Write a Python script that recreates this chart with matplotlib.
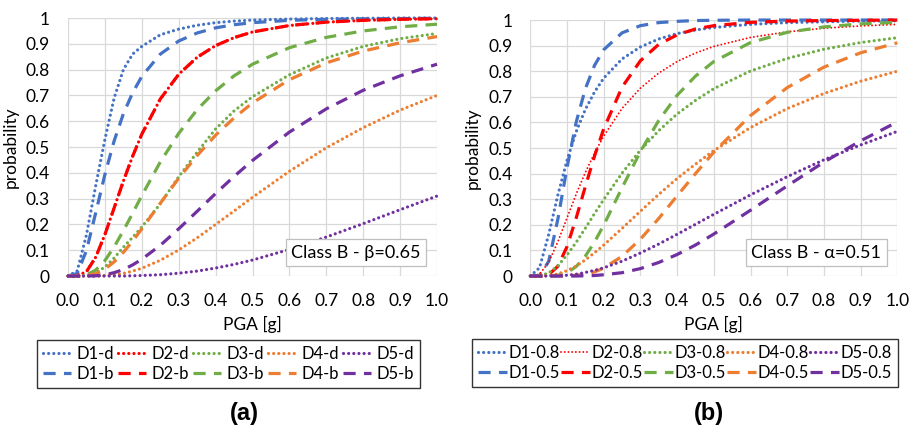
import matplotlib
matplotlib.use('Agg')
import matplotlib.pyplot as plt

# --- Dati ---
PGA = [0, 0.025, 0.05, 0.075, 0.1, 0.125, 0.15, 0.175, 0.2, 0.25,
       0.3, 0.35, 0.4, 0.45, 0.5, 0.6, 0.7, 0.8, 0.9, 1.0]

# (a) Class B - beta=0.65
a_D1_d = [0, 0.02, 0.16, 0.35, 0.53, 0.69, 0.80, 0.86, 0.89, 0.935,
          0.957, 0.972, 0.982, 0.988, 0.992, 0.996, 0.998, 0.999, 1.0, 1.0]
a_D2_d = [0, 0.001, 0.017, 0.073, 0.161, 0.264, 0.368, 0.464, 0.55, 0.686,
          0.782, 0.848, 0.893, 0.924, 0.946, 0.971, 0.984, 0.991, 0.995, 0.997]
a_D3_d = [0, 0, 0.002, 0.012, 0.035, 0.07, 0.112, 0.15, 0.19, 0.28,
          0.385, 0.48, 0.57, 0.64, 0.695, 0.78, 0.845, 0.89, 0.92, 0.94]
a_D4_d = [0, 0, 0, 0, 0.002, 0.005, 0.01, 0.019, 0.03, 0.061,
          0.101, 0.148, 0.20, 0.252, 0.305, 0.406, 0.497, 0.575, 0.643, 0.70]
a_D5_d = [0, 0, 0, 0, 0, 0, 0, 0.001, 0.002, 0.005,
          0.011, 0.019, 0.031, 0.045, 0.062, 0.103, 0.151, 0.203, 0.257, 0.31]

a_D1_b = [0, 0.01, 0.099, 0.245, 0.394, 0.524, 0.629, 0.71, 0.774, 0.86,
          0.911, 0.942, 0.962, 0.974, 0.982, 0.991, 0.995, 0.997, 0.998, 0.999]
a_D2_b = [0, 0.001, 0.017, 0.073, 0.161, 0.264, 0.368, 0.464, 0.55, 0.686,
          0.782, 0.848, 0.893, 0.924, 0.946, 0.971, 0.984, 0.991, 0.995, 0.997]
a_D3_b = [0, 0, 0.004, 0.023, 0.06, 0.113, 0.176, 0.243, 0.312, 0.442,
          0.553, 0.645, 0.718, 0.776, 0.821, 0.885, 0.925, 0.95, 0.966, 0.976]
a_D4_b = [0, 0, 0.002, 0.009, 0.027, 0.055, 0.092, 0.135, 0.183, 0.282,
          0.379, 0.467, 0.546, 0.613, 0.671, 0.761, 0.826, 0.872, 0.904, 0.928]
a_D5_b = [0, 0, 0, 0.001, 0.005, 0.013, 0.025, 0.043, 0.065, 0.119,
          0.183, 0.251, 0.32, 0.386, 0.448, 0.558, 0.648, 0.72, 0.776, 0.821]

# (b) Class B - alpha=0.51
b_D1_08 = [0, 0.032, 0.162, 0.316, 0.452, 0.564, 0.651, 0.719, 0.773, 0.848,
           0.895, 0.926, 0.947, 0.961, 0.971, 0.983, 0.99, 0.993, 0.996, 0.997]
b_D2_08 = [0, 0.007, 0.053, 0.134, 0.227, 0.32, 0.405, 0.48, 0.547, 0.655,
           0.734, 0.793, 0.838, 0.871, 0.897, 0.932, 0.954, 0.968, 0.977, 0.983]
b_D3_08 = [0, 0.001, 0.012, 0.04, 0.082, 0.132, 0.187, 0.244, 0.299, 0.402,
           0.492, 0.568, 0.633, 0.686, 0.732, 0.801, 0.85, 0.886, 0.912, 0.931]
b_D4_08 = [0, 0, 0.002, 0.008, 0.021, 0.039, 0.063, 0.091, 0.121, 0.186,
           0.253, 0.319, 0.381, 0.437, 0.49, 0.58, 0.654, 0.713, 0.761, 0.80]
b_D5_08 = [0, 0, 0, 0.001, 0.003, 0.007, 0.014, 0.022, 0.032, 0.058,
           0.09, 0.125, 0.163, 0.202, 0.241, 0.317, 0.388, 0.454, 0.512, 0.565]

b_D1_05 = [0, 0.002, 0.057, 0.222, 0.424, 0.601, 0.732, 0.823, 0.884, 0.95,
           0.978, 0.99, 0.995, 0.998, 0.999, 1.0, 1.0, 1.0, 1.0, 1.0]
b_D2_05 = [0, 0, 0.005, 0.038, 0.115, 0.227, 0.35, 0.469, 0.575, 0.738,
           0.841, 0.905, 0.942, 0.965, 0.978, 0.991, 0.996, 0.998, 0.999, 1.0]
b_D3_05 = [0, 0, 0, 0.003, 0.013, 0.037, 0.078, 0.133, 0.199, 0.345,
           0.486, 0.608, 0.706, 0.781, 0.838, 0.912, 0.952, 0.973, 0.985, 0.991]
b_D4_05 = [0, 0, 0, 0, 0.001, 0.003, 0.007, 0.016, 0.031, 0.077,
           0.144, 0.225, 0.313, 0.40, 0.484, 0.627, 0.736, 0.816, 0.872, 0.911]
b_D5_05 = [0, 0, 0, 0, 0, 0, 0.001, 0.002, 0.005, 0.013,
           0.029, 0.053, 0.084, 0.121, 0.164, 0.257, 0.352, 0.445, 0.528, 0.602]

LIVELLI = ['D1', 'D2', 'D3', 'D4', 'D5']
COLORI = ['#4472C4', '#FF0000', '#70AD47', '#ED7D31', '#7030A0']
# ---------------------

plt.rcParams['font.family'] = ['Lato', 'DejaVu Sans']
FS = 12.5      # assi
FS_LEG = 12    # legenda

DOT = dict(linestyle=(0, (0.01, 1.6)), linewidth=2.3, dash_capstyle='round')
DOT_FINE = dict(linestyle=(0, (0.01, 1.9)), linewidth=1.4, dash_capstyle='round')
DASH = dict(linestyle=(0, (3.8, 2.6)), linewidth=2.3, dash_capstyle='butt')


def prepara_assi(ax, testo):
    ax.set_xlim(0, 1)
    ax.set_ylim(0, 1)
    ax.set_xticks([i / 10 for i in range(11)])
    ax.set_xticklabels([f'{i / 10:.1f}' for i in range(11)])
    ax.set_yticks([i / 10 for i in range(11)])
    ax.set_yticklabels(['0'] + [f'{i / 10:g}' for i in range(1, 10)] + ['1'])
    ax.tick_params(length=0, labelsize=FS)
    ax.tick_params(axis='y', pad=13)
    ax.tick_params(axis='x', pad=12)
    for s in ax.spines.values():
        s.set_visible(False)
    ax.grid(True, color='#D9D9D9', linewidth=0.9)
    ax.set_axisbelow(True)
    ax.set_xlabel('PGA [g]', fontsize=FS, labelpad=5)
    ax.set_ylabel('probability', fontsize=FS, labelpad=5)
    ax.text(0.956, 0.06, testo, transform=ax.transAxes, ha='right', va='bottom',
            fontsize=13, zorder=10,
            bbox=dict(boxstyle='square,pad=0.3', facecolor='white',
                      edgecolor='#BFBFBF', linewidth=0.9))


fig = plt.figure(figsize=(9.12, 4.29), dpi=100)
ax1 = fig.add_axes([0.0746, 0.3566, 0.4046, 0.6014])
ax2 = fig.add_axes([0.5815, 0.3566, 0.4024, 0.5967])

# Pannello (a)
serie_a_d = [a_D1_d, a_D2_d, a_D3_d, a_D4_d, a_D5_d]
serie_a_b = [a_D1_b, a_D2_b, a_D3_b, a_D4_b, a_D5_b]
handles_a = []
for nome, col, yd, yb in zip(LIVELLI, COLORI, serie_a_d, serie_a_b):
    ld, = ax1.plot(PGA, yd, color=col, clip_on=False, label=nome + '-d', **DOT)
    lb, = ax1.plot(PGA, yb, color=col, clip_on=False, label=nome + '-b', **DASH)
    handles_a += [ld, lb]
prepara_assi(ax1, 'Class B - β=0.65')

# Pannello (b)
serie_b_08 = [b_D1_08, b_D2_08, b_D3_08, b_D4_08, b_D5_08]
serie_b_05 = [b_D1_05, b_D2_05, b_D3_05, b_D4_05, b_D5_05]
handles_b = []
for nome, col, y8, y5 in zip(LIVELLI, COLORI, serie_b_08, serie_b_05):
    stile = DOT_FINE if nome == 'D2' else DOT
    l8, = ax2.plot(PGA, y8, color=col, clip_on=False, label=nome + '-0.8', **stile)
    l5, = ax2.plot(PGA, y5, color=col, clip_on=False, label=nome + '-0.5', **DASH)
    handles_b += [l8, l5]
prepara_assi(ax2, 'Class B - α=0.51')

# Legende (5 colonne, righe: -d / -b)
leg_kw = dict(loc='center', ncol=5, fontsize=FS_LEG, frameon=True, fancybox=False,
              edgecolor='black', handlelength=1.7, labelspacing=0.25,
              borderpad=0.35, borderaxespad=0)
lg1 = fig.legend(handles=handles_a, bbox_to_anchor=(0.2505, 0.1515),
                 handletextpad=0.3, columnspacing=0.25, **leg_kw)
lg2 = fig.legend(handles=handles_b, bbox_to_anchor=(0.7511, 0.1538),
                 handletextpad=0.1, columnspacing=0.1, **leg_kw)
for lg in (lg1, lg2):
    lg.get_frame().set_linewidth(1.0)

fig.text(0.2675, 0.037, '(a)', ha='center', va='center', fontsize=17,
         fontweight='bold', family='Liberation Sans')
fig.text(0.7774, 0.037, '(b)', ha='center', va='center', fontsize=17,
         fontweight='bold', family='Liberation Sans')

fig.savefig('out.png', dpi=100)
